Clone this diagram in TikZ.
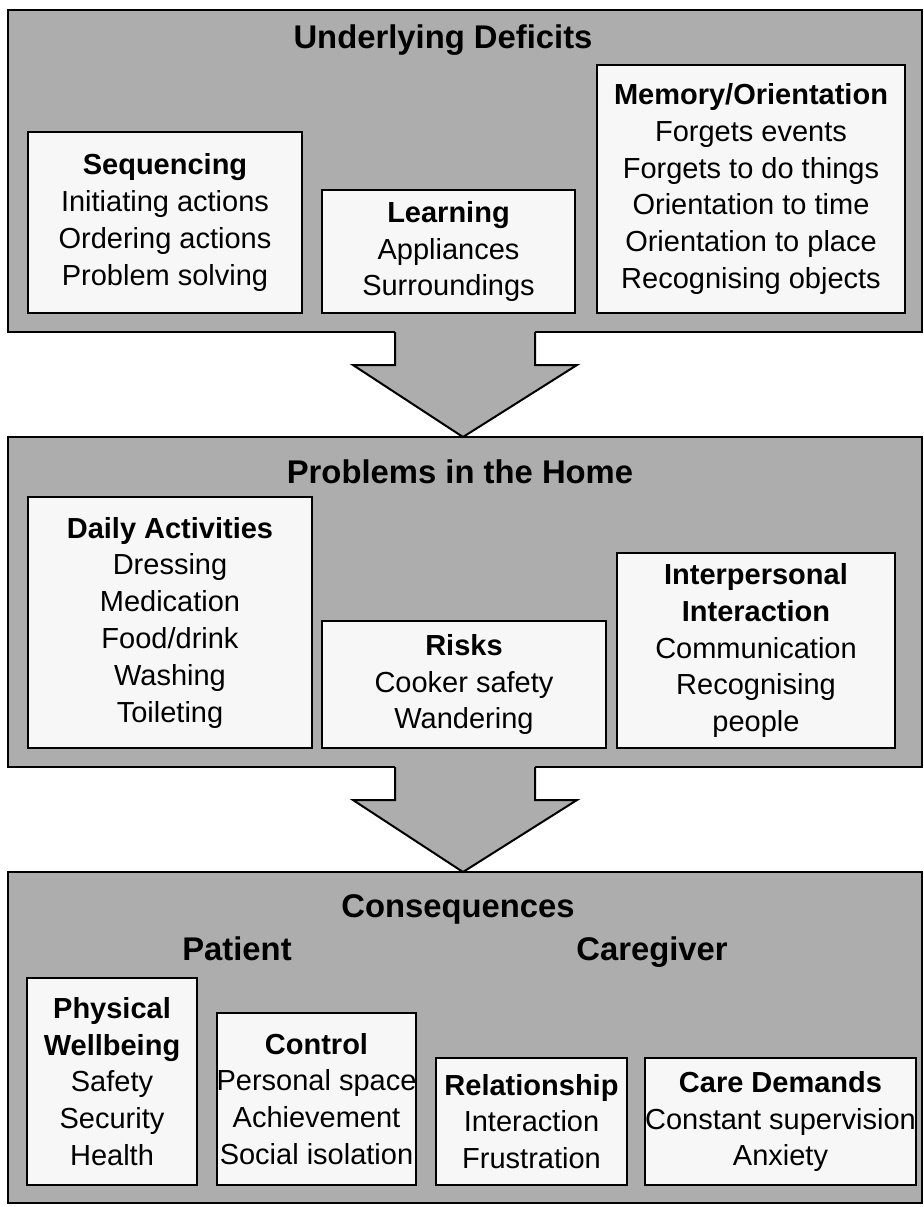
\documentclass[tikz,border=0pt]{standalone}
\usepackage{fontspec}
\setmainfont{Liberation Sans}
\definecolor{panelgray}{gray}{0.68}
\definecolor{boxwhite}{gray}{0.97}
\begin{document}
\begin{tikzpicture}[x=0.5pt,y=-0.5pt,
    panel/.style={draw=black,line width=1pt,fill=panelgray},
    itembox/.style={draw=black,line width=1pt,fill=boxwhite,inner sep=0pt,align=center,
      font=\fontsize{14.5}{18.4}\selectfont},
    heading/.style={font=\bfseries\fontsize{16.4}{19}\selectfont,inner sep=0pt}]
  \useasboundingbox (0,0) rectangle (923,1207);
  % panels
  \draw[panel] (8,10) rectangle (922,332);
  \draw[panel] (8,437) rectangle (922,767);
  \draw[panel] (8,872) rectangle (922,1203);
  % arrows between the panels
  \fill[panelgray] (395,330) -- (395,365) -- (353,365) -- (463,437) -- (577,365) -- (535,365) -- (535,330) -- cycle;
  \draw[line width=1pt] (395,332) -- (395,365) -- (353,365) -- (463,437) -- (577,365) -- (535,365) -- (535,332);
  \fill[panelgray] (395,765) -- (395,800) -- (353,800) -- (463,872) -- (577,800) -- (535,800) -- (535,765) -- cycle;
  \draw[line width=1pt] (395,767) -- (395,800) -- (353,800) -- (463,872) -- (577,800) -- (535,800) -- (535,767);
  % underlying deficits
  \node[heading] (deficits) at (443,40) {Underlying Deficits};
  \node[itembox,minimum width=137pt,minimum height=90.5pt] (seq) at (165,222.5)
    {\textbf{Sequencing}\\Initiating actions\\Ordering actions\\Problem solving};
  \node[itembox,minimum width=126.5pt,minimum height=61.5pt] (learn) at (448.5,251.5)
    {\textbf{Learning}\\Appliances\\Surroundings};
  \node[itembox,minimum width=154pt,minimum height=124pt] (memory) at (751,189)
    {\textbf{Memory/Orientation}\\Forgets events\\Forgets to do things\\Orientation to time\\Orientation to place\\Recognising objects};
  % problems in the home
  \node[heading] (problems) at (460,472) {Problems in the Home};
  \node[itembox,minimum width=142pt,minimum height=125.5pt] (daily) at (170,622.5)
    {\textbf{Daily Activities}\\Dressing\\Medication\\Food/drink\\Washing\\Toileting};
  \node[itembox,minimum width=142pt,minimum height=63.5pt] (risks) at (464,684.5)
    {\textbf{Risks}\\Cooker safety\\Wandering};
  \node[itembox,minimum width=139pt,minimum height=97.5pt] (inter) at (756,650.5)
    {\textbf{Interpersonal}\\\textbf{Interaction}\\Communication\\Recognising\\people};
  % consequences
  \node[heading] (conseq) at (458,909) {Consequences};
  \node[heading,anchor=base] (patient) at (237,960) {Patient};
  \node[heading,anchor=base] (caregiver) at (652,960) {Caregiver};
  \node[itembox,minimum width=85pt,minimum height=103.5pt] (phys) at (112,1081.5)
    {\textbf{Physical}\\\textbf{Wellbeing}\\Safety\\Security\\Health};
  \node[itembox,minimum width=99.5pt,minimum height=86pt] (control) at (316.5,1099)
    {\textbf{Control}\\Personal space\\Achievement\\Social isolation};
  \node[itembox,minimum width=95.5pt,minimum height=63.5pt] (relation) at (531.5,1121.5)
    {\textbf{Relationship}\\Interaction\\Frustration};
  \node[itembox,minimum width=132.5pt,minimum height=63.5pt] (care) at (780.5,1121.5)
    {\textbf{Care Demands}\\Constant supervision\\Anxiety};
\end{tikzpicture}
\end{document}
